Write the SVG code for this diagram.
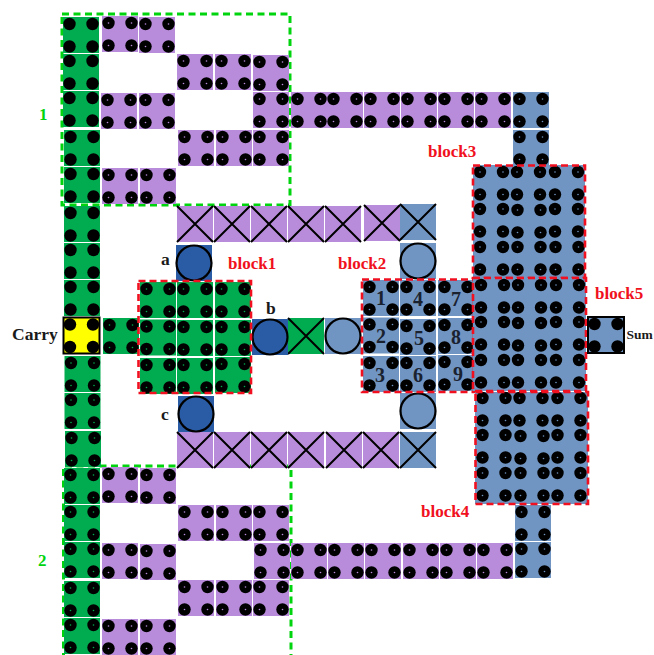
<svg xmlns="http://www.w3.org/2000/svg" width="654" height="655" viewBox="0 0 654 655">
<style>
.g{fill:#00ac4f}.p{fill:#b98cdb}.b{fill:#7195c2}.d{fill:#2a5ca5}.y{fill:#ffff00}
.ring{fill:none;stroke:#000;stroke-width:2.2}
.x{stroke:#000;stroke-width:2;fill:none}
.frame{fill:none;stroke:#000;stroke-width:2}
.gd{fill:none;stroke:#00d40f;stroke-width:3;stroke-dasharray:7 4.5}
.rd{fill:none;stroke:#f01020;stroke-width:2.6;stroke-dasharray:7 4}
text{font-family:"Liberation Serif","Times New Roman",serif;font-weight:bold}
.l{font-size:17.5px;fill:#1a1a1a}.n{font-size:20px;fill:#1a2230;text-anchor:middle}.r{font-size:17px;fill:#f01020}.t{font-size:17px;fill:#00d40f}
</style>
<defs>
<circle id="dot" r="6.2" fill="#000"/>
<circle id="pin" r="0.8"/>
<g id="d4"><use href="#dot" x="6.5" y="7"/><use href="#dot" x="29.5" y="7"/><use href="#dot" x="6.5" y="29.5"/><use href="#dot" x="29.5" y="29.5"/><use href="#pin" x="6.5" y="7"/><use href="#pin" x="29.5" y="7"/><use href="#pin" x="6.5" y="29.5"/><use href="#pin" x="29.5" y="29.5"/></g>
<g id="c"><rect width="36" height="36"/><use href="#d4"/></g>
<g id="s"><rect width="36" height="36"/><use href="#dot" x="6.5" y="7"/><use href="#dot" x="29.5" y="7"/><use href="#dot" x="6.5" y="29.5"/><use href="#dot" x="29.5" y="29.5"/></g>
<g id="k"><rect width="36" height="36"/><path class="x" d="M0 36L36 0M0 0L36 36"/></g>
<g id="o"><rect width="36" height="36"/><circle class="ring" cx="18" cy="18" r="17.5"/></g>
</defs>
<g id="frames-green">
<rect class="gd" x="62" y="14" width="228" height="191"/>
<path class="gd" d="M63.500 660V466H291V660"/>
</g>
<g id="connectors">
<g id="carry-column" class="g">
<use href="#s" x="63" y="17"/><use href="#s" x="63" y="54"/><use href="#s" x="63" y="91"/><use href="#s" x="64" y="130"/><use href="#s" x="64" y="167"/><use href="#s" x="64" y="206"/><use href="#s" x="64" y="243"/><use href="#s" x="64" y="280"/><use href="#c" x="64.500" y="356"/><use href="#c" x="64.500" y="393"/><use href="#c" x="65" y="431"/><use href="#c" x="64" y="468"/><use href="#c" x="64" y="505"/><use href="#c" x="64" y="542"/><use href="#c" x="64" y="581"/><use href="#c" x="64" y="618"/>
</g>
<g id="feed" class="g"><use href="#c" x="103" y="318"/></g>
<g id="wires-top" class="p">
<use href="#c" x="102" y="16"/><use href="#c" x="139" y="17"/><use href="#c" x="177" y="54"/><use href="#c" x="215" y="54"/><use href="#c" x="253" y="55"/><use href="#c" x="101" y="93"/><use href="#c" x="139" y="93"/><use href="#c" x="178" y="130"/><use href="#c" x="216" y="130"/><use href="#c" x="253" y="130"/><use href="#c" x="102" y="168"/><use href="#c" x="140" y="168"/>
<use href="#c" x="253" y="92"/><use href="#c" x="291" y="92"/><use href="#c" x="327" y="92"/><use href="#c" x="364" y="92"/><use href="#c" x="401" y="92"/><use href="#c" x="438" y="92"/><use href="#c" x="475" y="92"/>
</g>
<g id="wires-bottom" class="p">
<use href="#c" x="102" y="467"/><use href="#c" x="140" y="468"/><use href="#c" x="178" y="505"/><use href="#c" x="216" y="505"/><use href="#c" x="253" y="505"/><use href="#c" x="102" y="543"/><use href="#c" x="140" y="544"/><use href="#c" x="178" y="580"/><use href="#c" x="216" y="580"/><use href="#c" x="253" y="580"/><use href="#c" x="102" y="619"/><use href="#c" x="140" y="619"/>
<use href="#c" x="254" y="543"/><use href="#c" x="291" y="543"/><use href="#c" x="328" y="543"/><use href="#c" x="365" y="543"/><use href="#c" x="403" y="543"/><use href="#c" x="440" y="543"/><use href="#c" x="477" y="543"/>
</g>
<g id="wires-sum" class="b"><use href="#c" x="513" y="92"/><use href="#c" x="513" y="130"/><use href="#c" x="515" y="505"/><use href="#c" x="515" y="542"/></g>
<g id="cross-top" class="p"><use href="#k" x="177" y="206"/><use href="#k" x="214" y="206"/><use href="#k" x="251" y="206"/><use href="#k" x="288" y="206"/><use href="#k" x="325" y="206"/><use href="#k" x="364" y="205"/></g>
<g id="cross-bottom" class="p"><use href="#k" x="177" y="432"/><use href="#k" x="214" y="432"/><use href="#k" x="251" y="432"/><use href="#k" x="288" y="432"/><use href="#k" x="326" y="432"/><use href="#k" x="363" y="432"/></g>
</g>
<g id="node-x-top" class="b"><use href="#k" x="400" y="204"/></g>
<g id="node-x-bottom" class="b"><use href="#k" x="400" y="432"/></g>
<g id="node-x-mid" class="g"><use href="#k" x="288" y="318"/></g>
<g id="node-a" class="d"><use href="#o" x="176" y="245"/></g>
<g id="node-b" class="d"><use href="#o" x="252" y="319"/></g>
<g id="node-c" class="d"><use href="#o" x="178" y="396"/></g>
<g id="node-o1" class="b"><use href="#o" x="400" y="243"/></g>
<g id="node-o2" class="b"><use href="#o" x="325" y="318"/></g>
<g id="node-o3" class="b"><use href="#o" x="400" y="393"/></g>
<g id="block1" class="g">
<use href="#c" x="140" y="282"/><use href="#c" x="177" y="282"/><use href="#c" x="215" y="282"/><use href="#c" x="140" y="319.500"/><use href="#c" x="177" y="320"/><use href="#c" x="215" y="320"/><use href="#c" x="140" y="358"/><use href="#c" x="177" y="358"/><use href="#c" x="215" y="357"/>
<rect class="rd" x="138.500" y="281" width="112.500" height="112"/>
</g>
<g id="block2" class="b">
<use href="#c" x="363" y="280"/><use href="#c" x="400" y="280"/><use href="#c" x="438" y="280"/><use href="#c" x="363" y="317.500"/><use href="#c" x="400" y="319"/><use href="#c" x="438" y="318"/><use href="#c" x="363" y="356"/><use href="#c" x="400" y="356"/><use href="#c" x="438" y="355"/>
<rect class="rd" x="362" y="279.500" width="112" height="112.500"/>
<text class="n" x="381" y="305">1</text><text class="n" x="418" y="306">4</text><text class="n" x="456" y="306">7</text><text class="n" x="381" y="343">2</text><text class="n" x="419" y="345">5</text><text class="n" x="456" y="344">8</text><text class="n" x="380" y="382">3</text><text class="n" x="418" y="382">6</text><text class="n" x="458" y="381">9</text>
</g>
<g id="block3" class="b">
<rect x="473" y="165" width="112" height="113"/>
<use href="#d4" x="473.500" y="165"/><use href="#d4" x="510.500" y="165"/><use href="#d4" x="548.500" y="165"/><use href="#d4" x="473.500" y="202"/><use href="#d4" x="511" y="203"/><use href="#d4" x="548.500" y="202"/><use href="#d4" x="473.500" y="240"/><use href="#d4" x="511" y="240"/><use href="#d4" x="549" y="240"/>
<rect class="rd" x="473" y="165.500" width="112" height="112.500"/>
</g>
<g id="block5" class="b">
<rect x="473" y="278" width="113" height="113"/>
<use href="#d4" x="474.500" y="278"/><use href="#d4" x="511.500" y="278"/><use href="#d4" x="549.500" y="278"/><use href="#d4" x="474.500" y="315"/><use href="#d4" x="511.500" y="316"/><use href="#d4" x="549.500" y="315"/><use href="#d4" x="474.500" y="353"/><use href="#d4" x="511.500" y="353"/><use href="#d4" x="549.500" y="353"/>
<rect class="rd" x="473" y="278" width="113" height="113"/>
</g>
<g id="block4" class="b">
<rect x="475" y="392" width="113" height="112"/>
<use href="#d4" x="476" y="391"/><use href="#d4" x="513" y="391"/><use href="#d4" x="551" y="391"/><use href="#d4" x="476" y="428"/><use href="#d4" x="514" y="429"/><use href="#d4" x="551" y="428"/><use href="#d4" x="476" y="466"/><use href="#d4" x="514" y="466"/><use href="#d4" x="551" y="466"/>
<rect class="rd" x="475.500" y="392" width="112.500" height="112"/>
</g>
<g id="carry" class="y"><use href="#s" x="63.500" y="317.500"/><rect class="frame" x="63.500" y="317.500" width="36" height="36"/></g>
<g id="sum" class="b"><use href="#s" x="588" y="317"/><rect class="frame" x="588" y="317" width="36" height="36"/></g>
<g id="labels">
<text class="l" x="12" y="340">Carry</text><text class="l" x="626.500" y="339" style="font-size:13.500px">Sum</text>
<text class="t" x="39" y="120">1</text><text class="t" x="38" y="566">2</text>
<text class="l" x="161" y="265">a</text><text class="l" x="266" y="314">b</text><text class="l" x="161" y="420">c</text>
<text class="r" x="228" y="269">block1</text><text class="r" x="338" y="269">block2</text><text class="r" x="428" y="157">block3</text><text class="r" x="421" y="517">block4</text><text class="r" x="595" y="299">block5</text>
</g>
</svg>
